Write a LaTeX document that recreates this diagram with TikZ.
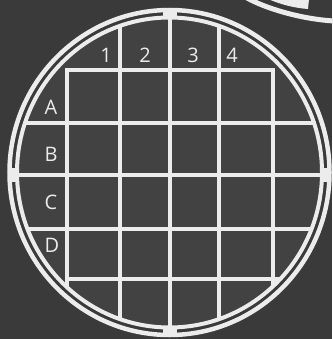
\documentclass[tikz,border=0pt]{standalone}
\usepackage{fontspec}
\setmainfont{Open Sans}
\definecolor{bgc}{RGB}{58,58,58}
\definecolor{inc}{RGB}{66,66,66}
\definecolor{wht}{RGB}{236,236,236}
\begin{document}
\begin{tikzpicture}[x=1pt,y=-1pt,
  gridline/.style={draw=wht, line width=4pt, line join=miter},
  ringline/.style={draw=wht},
  lab/.style={text=wht, font=\fontsize{20}{20}\selectfont, inner sep=0pt, anchor=center}]
\useasboundingbox (0,0) rectangle (332,339);
\fill[bgc] (0,0) rectangle (332,339);
% interior
\fill[inc] (169.5,172.5) ellipse [x radius=152.5, y radius=155];
% grid
\begin{scope}
  \clip (169.5,172.5) ellipse [x radius=152.5, y radius=155];
  \draw[gridline] (120,0) -- (120,339);
  \draw[gridline] (170,0) -- (170,339);
  \draw[gridline] (219,0) -- (219,339);
  \draw[gridline] (67,339) -- (67,70) -- (273,70) -- (273,339);
  \draw[gridline] (0,123) -- (332,123);
  \draw[gridline] (0,175) -- (332,175);
  \draw[gridline] (0,229) -- (332,229);
  \draw[gridline] (67,279) -- (332,279);
\end{scope}
% rings
\draw[ringline, line width=4.5pt] (169.5,172.5) ellipse [x radius=160, y radius=162.5];
\draw[ringline, line width=4pt] (169.5,172.5) ellipse [x radius=152.5, y radius=155];
% bridges
\fill[wht] (162.5,8.5) rectangle (176.5,19.5);
\fill[wht] (162.5,325.5) rectangle (176.5,336.5);
\fill[wht] (8,168) rectangle (18.5,182);
\fill[wht] (320.5,168) rectangle (331,182);
% labels
\node[lab] (c1) at (106,55) {1};
\node[lab] (c2) at (145,55) {2};
\node[lab] (c3) at (193,55) {3};
\node[lab] (c4) at (232,55) {4};
\node[lab] (rA) at (51,107) {A};
\node[lab] (rB) at (51,154) {B};
\node[lab] (rC) at (51,202) {C};
\node[lab] (rD) at (52,245) {D};
% top-right partial object
\draw[wht, line width=5pt] (247,-2) .. controls (265,8) and (300,19) .. (334,21);
\fill[wht] (268,-1) .. controls (282,5) and (295,8) .. (308,9) -- (309,-1) -- cycle;
\end{tikzpicture}
\end{document}
